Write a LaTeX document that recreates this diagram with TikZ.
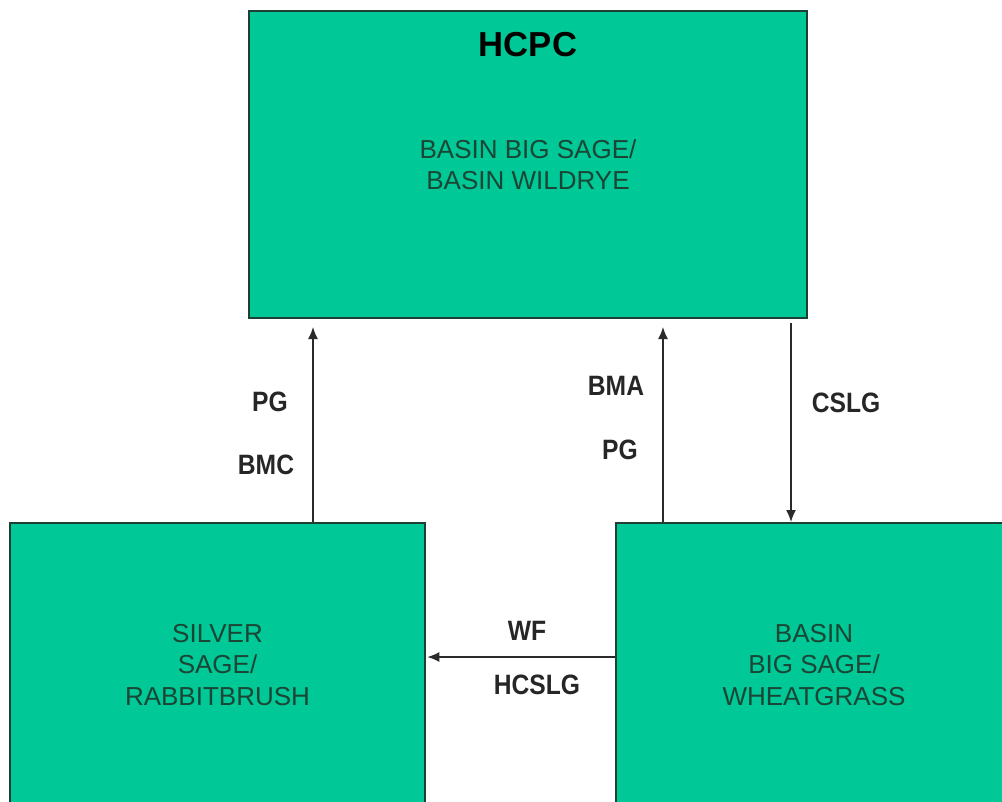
\documentclass[tikz,border=0pt]{standalone}
\usepackage{fontspec}
\setmainfont{Liberation Sans}
\newfontfamily\lblfont[FakeStretch=0.88]{Liberation Sans}
\usetikzlibrary{arrows.meta, calc, positioning}
\definecolor{stategreen}{HTML}{00C896}
\definecolor{stateline}{HTML}{1E3F33}
\definecolor{statetext}{HTML}{1B4535}
\definecolor{arrowgray}{HTML}{2A2A2A}

\begin{document}
\begin{tikzpicture}[
    x=0.75pt, y=-0.75pt,
    every node/.style={font=\fontsize{19.5}{23.6}\selectfont},
    state/.style={draw=stateline, line width=1.5pt, fill=stategreen, text=statetext, align=center, inner sep=0pt},
    title/.style={font=\bfseries\fontsize{26}{30}\selectfont, text=black},
    trans/.style={font=\lblfont\bfseries\fontsize{21}{24}\selectfont, text=black!85},
    arr/.style={-{Latex[length=9pt, width=7.5pt]}, line width=1.1pt, arrowgray},
  ]
  \useasboundingbox (0,0) rectangle (1002,801);
  % --- states
  \node[state, minimum width=418.5pt, minimum height=230.25pt] (hcpc) at (528,164.5) {BASIN BIG SAGE/\\BASIN WILDRYE};
  \node[title] (hcpctitle) at ($(hcpc.north)+(0,35)$) {HCPC};
  \node[state, minimum width=311.25pt, minimum height=213pt] (silver) at (217.5,665) {SILVER\\SAGE/\\RABBITBRUSH};
  \node[state, minimum width=297pt, minimum height=213pt] (wheat) at (814,665) {BASIN\\BIG SAGE/\\WHEATGRASS};
  % --- arrow columns
  \coordinate (colA) at (313,0);
  \coordinate (colB) at (663,0);
  \coordinate (colC) at (791,0);
  \coordinate (rowD) at (0,657);
  % --- transitions
  \draw[arr, shorten >=6pt] (silver.north -| colA) -- (hcpc.south -| colA);
  \draw[arr, shorten >=6pt] (wheat.north -| colB) -- (hcpc.south -| colB);
  \draw[arr, shorten <=3pt] (hcpc.south -| colC) -- (wheat.north -| colC);
  \draw[arr, shorten >=1pt] (wheat.west |- rowD) -- (silver.east |- rowD);
  % --- labels
  \node[trans] (pgA)   at (270,402) {PG};
  \node[trans] (bmc)   at (266,465) {BMC};
  \node[trans] (bma)   at (616,386) {BMA};
  \node[trans] (pgB)   at (620,450) {PG};
  \node[trans] (cslg)  at (846,403) {CSLG};
  \node[trans] (wf)    at (527,631) {WF};
  \node[trans] (hcslg) at (537,685) {HCSLG};
\end{tikzpicture}
\end{document}
